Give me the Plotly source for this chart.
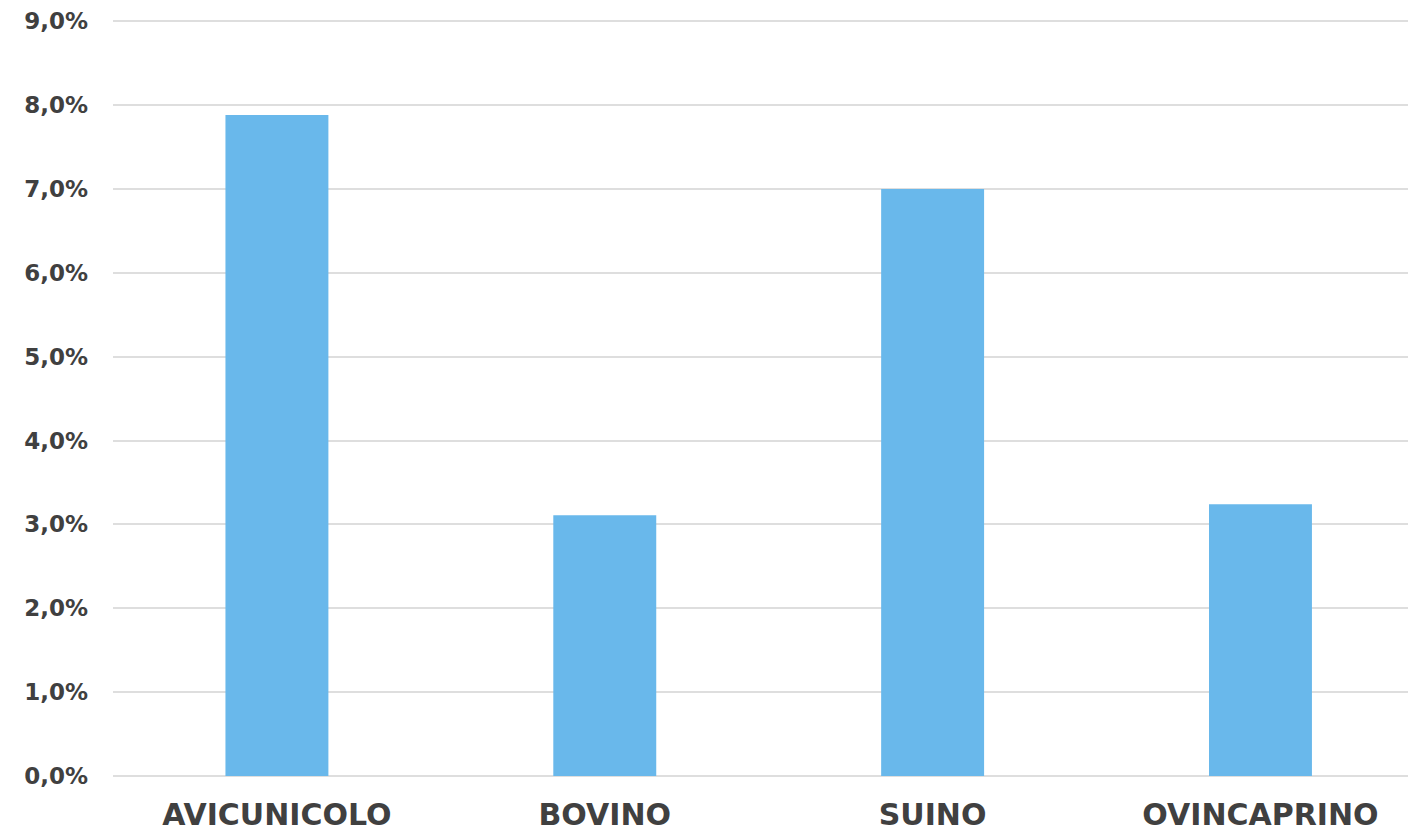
import plotly.graph_objects as go

# Share by livestock sector
categories = ["AVICUNICOLO", "BOVINO", "SUINO", "OVINCAPRINO"]
shares = [0.0788, 0.0311, 0.0700, 0.0324]

bar_color = "#69B8EB"
text_color = "#404040"
grid_color = "#DEDEDE"
font_family = "Verdana, 'DejaVu Sans', sans-serif"

fig = go.Figure(
    go.Bar(
        x=categories,
        y=shares,
        marker=dict(color=bar_color, line=dict(width=0)),
        hoverinfo="skip",
    )
)

fig.update_layout(
    width=1408,
    height=834,
    margin=dict(l=113, r=0, t=17, b=58),
    paper_bgcolor="white",
    plot_bgcolor="white",
    separators=",.",
    bargap=0.686,
    showlegend=False,
    font=dict(family=font_family, color=text_color),
)

fig.update_xaxes(
    range=[-0.5, 3.45],
    showgrid=False,
    zeroline=False,
    showline=False,
    ticks="",
    tickfont=dict(size=30, family=font_family, color=text_color, weight="bold"),
    ticklabelstandoff=18,
)

# Slight headroom above 9% so the top gridline is drawn
fig.update_yaxes(
    range=[0, 0.0905],
    tickvals=[i / 100 for i in range(10)],
    tickformat=".1%",
    showgrid=True,
    gridcolor=grid_color,
    gridwidth=2,
    zeroline=True,
    zerolinecolor=grid_color,
    zerolinewidth=2,
    showline=False,
    ticks="",
    tickfont=dict(size=23, family=font_family, color=text_color, weight="bold"),
    ticklabelstandoff=24,
)

fig.write_html("out.html")
